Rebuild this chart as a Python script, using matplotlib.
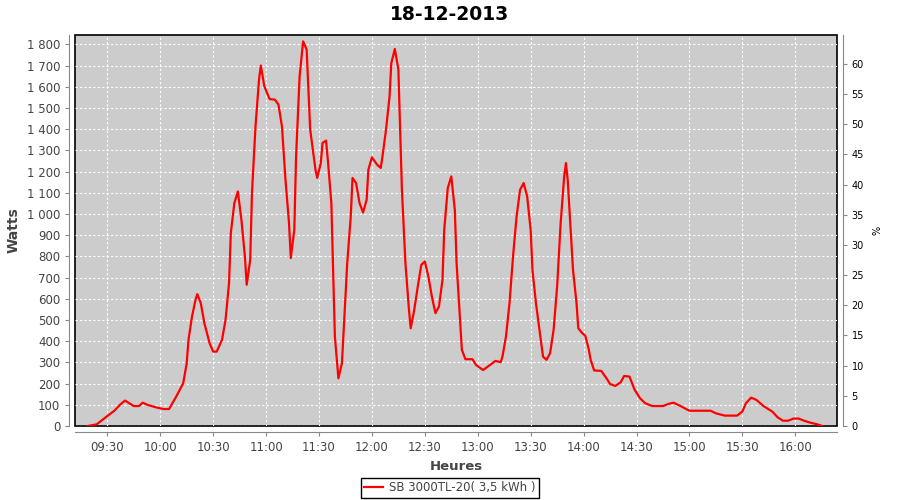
import matplotlib
matplotlib.use("Agg")
import numpy as np
import pandas as pd
import matplotlib.pyplot as plt
import matplotlib.dates as mdates
from matplotlib.ticker import FuncFormatter, MultipleLocator

# Data (time of day, power in W)
day = "2013-12-18"
times = ["09:19", "09:24", "09:30", "09:34", "09:37", "09:40", "09:45", "09:48", "09:50", "09:53",
         "09:58", "10:02", "10:05", "10:09", "10:13", "10:15", "10:16", "10:18", "10:20", "10:21",
         "10:23", "10:25", "10:28", "10:30", "10:32", "10:35", "10:37", "10:39", "10:40", "10:42",
         "10:44", "10:46", "10:48", "10:49", "10:51", "10:52", "10:54", "10:56", "10:57", "10:59",
         "11:02", "11:05", "11:07", "11:09", "11:11", "11:13", "11:14", "11:16", "11:17", "11:19",
         "11:21", "11:23", "11:24", "11:25", "11:28", "11:29", "11:31", "11:32", "11:34", "11:35",
         "11:37", "11:38", "11:39", "11:41", "11:43", "11:44", "11:45", "11:46", "11:48", "11:49",
         "11:51", "11:53", "11:55", "11:57", "11:58", "12:00", "12:03", "12:05", "12:06", "12:08",
         "12:10", "12:11", "12:13", "12:15", "12:16", "12:17", "12:19", "12:21", "12:22", "12:24",
         "12:26", "12:28", "12:30", "12:32", "12:34", "12:36", "12:38", "12:40", "12:41", "12:43",
         "12:45", "12:47", "12:48", "12:50", "12:51", "12:53", "12:57", "12:59", "13:03", "13:07",
         "13:10", "13:13", "13:14", "13:16", "13:18", "13:20", "13:22", "13:24", "13:26", "13:28",
         "13:30", "13:31", "13:33", "13:36", "13:37", "13:39", "13:41", "13:43", "13:45", "13:47",
         "13:49", "13:50", "13:51", "13:53", "13:54", "13:56", "13:57", "13:59", "14:01", "14:03",
         "14:04", "14:06", "14:10", "14:13", "14:15", "14:18", "14:21", "14:23", "14:26", "14:29",
         "14:32", "14:35", "14:39", "14:45", "14:48", "14:51", "14:55", "15:00", "15:12", "15:15",
         "15:20", "15:27", "15:30", "15:32", "15:35", "15:38", "15:42", "15:47", "15:50", "15:53",
         "15:56", "15:59", "16:02", "16:05", "16:08", "16:12", "16:15"]
watts = [0, 8, 47, 72, 99, 120, 94, 94, 110, 99,
         87, 80, 80, 138, 201, 296, 406, 516, 595, 622,
         579, 485, 390, 351, 351, 406, 500, 674, 910, 1051,
         1106, 973, 799, 666, 784, 1098, 1413, 1634, 1700, 1602,
         1542, 1539, 1516, 1413, 1161, 957, 792, 925, 1271, 1649,
         1814, 1775, 1586, 1398, 1209, 1170, 1240, 1335, 1346, 1256,
         1051, 737, 422, 225, 296, 453, 610, 768, 988, 1170,
         1146, 1051, 1007, 1067, 1209, 1267, 1232, 1217, 1272, 1398,
         1555, 1712, 1778, 1681, 1398, 1114, 768, 548, 461, 548,
         658, 760, 776, 705, 610, 532, 563, 689, 925, 1122,
         1177, 1020, 768, 500, 359, 315, 315, 288, 264, 288,
         307, 301, 327, 422, 579, 799, 988, 1114, 1146, 1083,
         925, 737, 579, 390, 327, 312, 343, 453, 658, 957,
         1177, 1240, 1161, 878, 737, 579, 461, 440, 425, 359,
         312, 262, 260, 225, 198, 189, 206, 236, 233, 170,
         131, 107, 94, 94, 104, 110, 94, 72, 72, 60,
         49, 49, 68, 107, 134, 123, 94, 68, 41, 25,
         25, 35, 35, 25, 17, 9, 1]

t = pd.to_datetime([day + " " + s for s in times])
w = np.array(watts)

y_max = 1844
pct_max = 64.8  # right axis top (%)

fig = plt.figure(figsize=(9, 5), dpi=100)
ax = fig.add_axes([75/900, 1 - 426/500, 762/900, 391/500])

ax.set_facecolor("#cccccc")
ax.patch.set_edgecolor("black")
ax.patch.set_linewidth(1.2)

ax.plot(t, w, color="red", lw=1.6, label="SB 3000TL-20( 3,5 kWh )")

ax.set_ylim(0, y_max)
ax.set_xlim(pd.Timestamp(day + " 09:11:40"), pd.Timestamp(day + " 16:23:40"))

ax.xaxis.set_major_locator(mdates.MinuteLocator(byminute=[0, 30]))
ax.xaxis.set_major_formatter(mdates.DateFormatter("%H:%M"))
ax.yaxis.set_major_locator(MultipleLocator(100))
ax.yaxis.set_major_formatter(FuncFormatter(lambda v, p: f"{int(v):,}".replace(",", " ")))

ax.grid(True, color="white", linestyle=(0, (2, 2)), linewidth=0.8)

for side in ["top", "right"]:
    ax.spines[side].set_visible(False)
for side in ["left", "bottom"]:
    ax.spines[side].set_position(("outward", 4))
    ax.spines[side].set_color("#888888")
ax.tick_params(axis="both", colors="#888888", labelcolor="#444444", labelsize=8.5, length=3, width=0.8)

ax.set_xlabel("Heures", fontsize=9.5, fontweight="bold", color="#444444")
ax.xaxis.set_label_coords(0.5, -0.087)
ax.set_ylabel("Watts", fontsize=10, fontweight="bold", color="#444444")
ax.yaxis.set_label_coords(-0.072, 0.5)

# right axis in percent
ax2 = ax.twinx()
ax2.set_ylim(0, pct_max)
ax2.yaxis.set_major_locator(MultipleLocator(5))
for side in ["top", "left", "bottom"]:
    ax2.spines[side].set_visible(False)
ax2.spines["right"].set_position(("outward", 4))
ax2.spines["right"].set_color("#888888")
ax2.tick_params(axis="y", colors="#888888", labelcolor="black", labelsize=7, length=3, width=0.8)
ax2.set_ylabel("%", fontsize=7, color="black")
ax2.yaxis.set_label_coords(1.046, 0.5)

fig.text(0.5, 1 - 14/500, "18-12-2013", ha="center", va="center",
         fontsize=13.5, fontweight="bold", color="black")

leg = fig.legend(loc="lower center", bbox_to_anchor=(0.5, 0.004), fontsize=8.5,
                 frameon=True, fancybox=False, edgecolor="black", framealpha=1,
                 borderaxespad=0, borderpad=0.3, handlelength=1.6, handletextpad=0.5)
leg.get_frame().set_linewidth(1)
for txt in leg.get_texts():
    txt.set_color("#444444")

fig.savefig("out.png", dpi=100)
